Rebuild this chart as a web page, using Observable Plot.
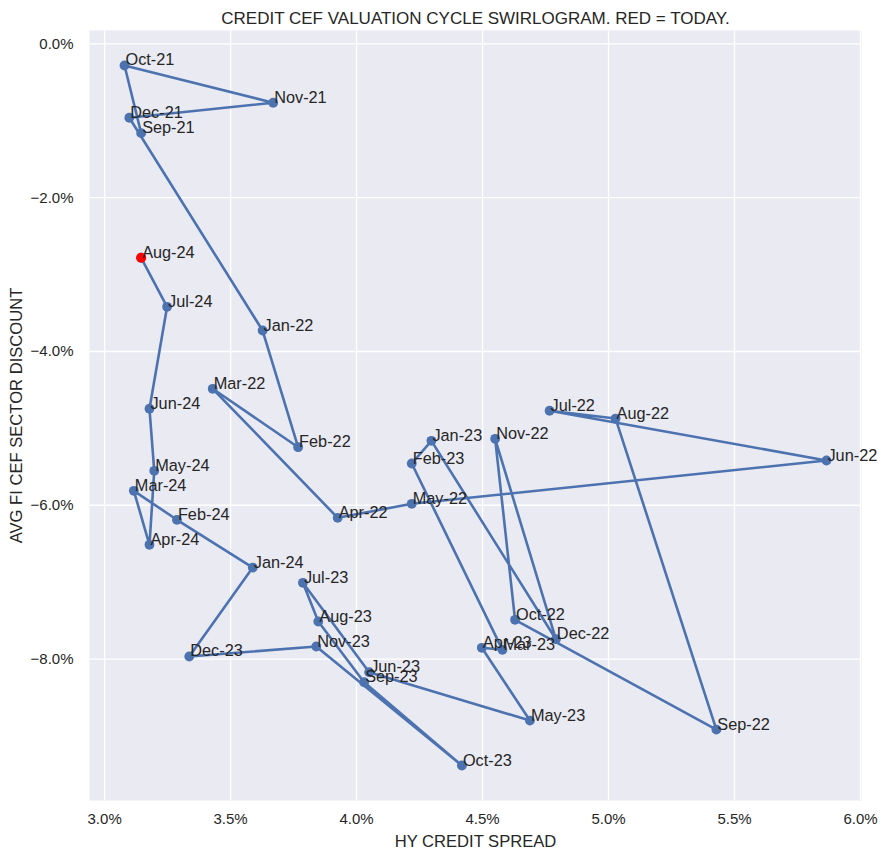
<!DOCTYPE html>
<html>
<head>
<meta charset="utf-8">
<script src="https://cdn.jsdelivr.net/npm/d3@7"></script>
<script src="https://cdn.jsdelivr.net/npm/@observablehq/plot@0.6"></script>
<style>
  html, body { margin: 0; padding: 0; background: #fff; }
  svg { display: block; }
</style>
</head>
<body>
<div id="chart"></div>
<script>
const months = ["Sep-21","Oct-21","Nov-21","Dec-21","Jan-22","Feb-22","Mar-22","Apr-22","May-22","Jun-22","Jul-22","Aug-22","Sep-22","Oct-22","Nov-22","Dec-22","Jan-23","Feb-23","Mar-23","Apr-23","May-23","Jun-23","Jul-23","Aug-23","Sep-23","Oct-23","Nov-23","Dec-23","Jan-24","Feb-24","Mar-24","Apr-24","May-24","Jun-24","Jul-24","Aug-24"];
const spread = [3.145,3.079,3.669,3.098,3.627,3.768,3.429,3.925,4.219,5.865,4.766,5.028,5.428,4.629,4.550,4.791,4.297,4.219,4.579,4.497,4.688,4.050,3.787,3.848,4.030,4.418,3.840,3.336,3.588,3.287,3.116,3.178,3.197,3.178,3.248,3.145];
const discount = [-1.160,-0.280,-0.765,-0.960,-3.727,-5.245,-4.485,-6.163,-5.981,-5.418,-4.771,-4.872,-8.917,-7.490,-5.136,-7.742,-5.162,-5.457,-7.880,-7.854,-8.800,-8.172,-7.009,-7.512,-8.302,-9.385,-7.837,-7.967,-6.810,-6.189,-5.812,-6.514,-5.552,-4.745,-3.419,-2.781];
const xTicks = [3.0,3.5,4.0,4.5,5.0,5.5,6.0];
const yTicks = [0,-2,-4,-6,-8];
const title = "CREDIT CEF VALUATION CYCLE SWIRLOGRAM. RED = TODAY.";
const xLabel = "HY CREDIT SPREAD";
const yLabel = "AVG FI CEF SECTOR DISCOUNT";

const data = months.map((m, i) => ({month: m, x: spread[i], y: discount[i]}));
const today = [data[data.length - 1]];
const pct = d => d3.format(".1f")(d) + "%";
const ink = "#262626";

const chart = Plot.plot({
  width: 888,
  height: 858,
  marginLeft: 89,
  marginRight: 27,
  marginTop: 30,
  marginBottom: 58,
  style: {fontFamily: "'Liberation Sans', Arial, sans-serif", fontSize: "15px", color: ink, background: "#fff"},
  x: {domain: [2.94, 6.004], ticks: xTicks, tickFormat: pct, label: null},
  y: {domain: [-9.84, 0.175], ticks: yTicks, tickFormat: pct, label: null},
  marks: [
    Plot.frame({fill: "#EAEAF2", stroke: null}),
    Plot.gridX(xTicks, {stroke: "white", strokeOpacity: 1, strokeWidth: 1.3}),
    Plot.gridY(yTicks, {stroke: "white", strokeOpacity: 1, strokeWidth: 1.3}),
    Plot.axisX(xTicks, {tickSize: 0, tickPadding: 13, tickFormat: pct, fill: ink, fontSize: 15, label: null}),
    Plot.axisY(yTicks, {tickSize: 0, tickPadding: 16, tickFormat: pct, fill: ink, fontSize: 15, label: null}),
    Plot.line(data, {x: "x", y: "y", stroke: "#4C72B0", strokeWidth: 2.6}),
    Plot.dot(data, {x: "x", y: "y", r: 4.9, fill: "#4C72B0", stroke: null}),
    Plot.dot(today, {x: "x", y: "y", r: 5, fill: "red", stroke: null}),
    Plot.text(data, {x: "x", y: "y", text: "month", textAnchor: "start", lineAnchor: "bottom", dx: 1, dy: 0, fontSize: 16.3, fill: ink}),
    Plot.text([title], {frameAnchor: "top", text: d => d, lineAnchor: "bottom", dy: -7, fontSize: 17, fill: ink}),
    Plot.text([xLabel], {frameAnchor: "bottom", text: d => d, lineAnchor: "bottom", dy: 46, fontSize: 16.6, fill: ink}),
    Plot.text([yLabel], {frameAnchor: "left", text: d => d, rotate: -90, lineAnchor: "middle", textAnchor: "middle", dx: -73, fontSize: 16.6, fill: ink})
  ]
});
document.getElementById("chart").appendChild(chart);
</script>
</body>
</html>
